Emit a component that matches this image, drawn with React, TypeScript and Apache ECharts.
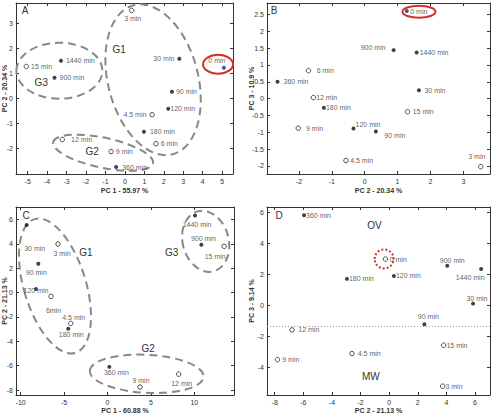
import React, { useEffect, useRef } from "react";
import * as echarts from "echarts";

const FONT = "Liberation Sans, Arial, Helvetica, sans-serif";
type Lab = [string, number, number, number]; // position, distance, dx, dy

// ---------- Panel A : PC1 vs PC2 ----------
const namesA = ["3 min", "0 min", "30 min", "1440 min", "15 min", "900 min", "90 min", "120 min", "4.5 min", "180 min", "6 min", "12 min", "9 min", "360 min"];
const xA = [0.35, 5.09, 2.8, -3.29, -5.07, -3.62, 2.42, 2.23, 1.4, 0.98, 1.6, -3.22, -0.71, -0.45];
const yA = [3.5, 1.21, 1.57, 1.49, 1.26, 0.81, 0.25, -0.43, -0.67, -1.35, -1.83, -1.66, -2.14, -2.76];
const kindA = ["open", "blue", "filled", "filled", "open", "filled", "filled", "filled", "open", "filled", "open", "open", "open", "filled"];
const labA: Lab[] = [["bottom", 2, 1, 0], ["top", 2, -7, 0], ["left", 3, 0, 0], ["right", 3, 0, 0], ["right", 2, 0, 0], ["right", 3, 0, 0], ["right", 2, 0, 0], ["right", 0, 0, 0], ["left", 3, 0, 0], ["right", 4, 0, 0], ["right", 2, 0, 0], ["right", 6, 0, 0], ["right", 2, 0, 0], ["right", 4, 0, 0]];
const xTicksA = [-5, -4, -3, -2, -1, 0, 1, 2, 3, 4, 5];
const yTicksA = [-2, -1, 0, 1, 2, 3];
const groupTextA = ["G1", "G3", "G2"];
const groupXA = [-0.3, -4.3, -1.68];
const groupYA = [1.93, 0.61, -2.15];
const ellA = [
  { cx: 1.45, cy: 0.73, rx: 45, ry: 77, rot: 14.6, kind: "group" },
  { cx: -3.37, cy: 1.09, rx: 43, ry: 28, rot: 0, kind: "group" },
  { cx: -1.12, cy: -2.19, rx: 51, ry: 15, rot: -12, kind: "group" },
  { cx: 4.79, cy: 1.35, rx: 15, ry: 9.5, rot: 0, kind: "red" },
];

// ---------- Panel B : PC2 vs PC3 ----------
const namesB = ["0 min", "900 min", "1440 min", "6 min", "360 min", "30 min", "12 min", "180 min", "15 min", "120 min", "90 min", "9 min", "4.5 min", "3 min"];
const xB = [1.28, 0.88, 1.58, -1.71, -2.65, 1.65, -1.56, -1.24, 1.3, -0.34, 0.34, -2.02, -0.57, 3.53];
const yB = [2.6, 1.44, 1.37, 0.83, 0.5, 0.25, 0.03, -0.27, -0.39, -0.89, -0.98, -0.88, -1.84, -2.02];
const kindB = ["blue", "filled", "filled", "open", "filled", "filled", "open", "filled", "open", "filled", "filled", "open", "open", "open"];
const labB: Lab[] = [["right", 1.5, 0, 0], ["left", 6, 0, -3], ["right", 1, 0, 0], ["right", 5.5, 0, 0], ["right", 4, 0, 0], ["right", 3.5, 0, 0], ["right", 0, 0, 0], ["right", 0, 0, 0], ["right", 2.5, 0, 0], ["right", 0, 0, -4.5], ["right", 6.5, 0, 4], ["right", 5, 0, 0], ["right", 1.5, 0, 0], ["top", 3.4, -4, 0]];
const xTicksB = [-2, -1, 0, 1, 2, 3];
const yTicksB = [-2, -1.5, -1, -0.5, 0, 0.5, 1, 1.5, 2, 2.5];
const ellB = [{ cx: 1.65, cy: 2.58, rx: 16.5, ry: 6, rot: 0, kind: "red" }];

// ---------- Panel C : PC1 vs PC2 ----------
const namesC = ["30 min", "3 min", "90 min", "120 min", "6min", "4.5 min", "180 min", "1440 min", "900 min", "15 min", "360 min", "9 min", "12 min"];
const xC = [-9.31, -5.7, -7.97, -8.24, -6.51, -4.24, -4.52, 10.08, 10.81, 13.44, 0.21, 3.74, 8.2];
const yC = [5.55, 3.99, 2.37, 0.29, -0.31, -2.53, -2.97, 6.34, 3.93, 3.8, -6.1, -7.76, -6.7];
const kindC = ["filled", "open", "filled", "filled", "open", "open", "filled", "filled", "filled", "open", "filled", "open", "open"];
const labC: Lab[] = [["bottom", 18, 8, 0], ["bottom", 3, 4, 0], ["bottom", 3, -2, 0], ["inside", 0, 0, 1], ["bottom", 8, 2.5, 0], ["top", 0, 3, 0], ["bottom", 0, 3, 0], ["bottom", 4, 2, 0], ["top", 1, 2, 0], ["bottom", 4, -9, 0], ["bottom", 0, 7, 0], ["top", 0.5, 1, 0], ["bottom", 3.5, 3, 0]];
const xTicksC = [-10, -5, 0, 5, 10];
const yTicksC = [-8, -6, -4, -2, 0, 2, 4, 6];
const groupTextC = ["G1", "G3", "G2"];
const groupXC = [-2.48, 7.4, 4.67];
const groupYC = [3.33, 3.33, -4.62];
const ellC = [
  { cx: -6.05, cy: 0.54, rx: 31, ry: 70, rot: 17, kind: "group" },
  { cx: 11.31, cy: 4.21, rx: 23, ry: 31, rot: 15, kind: "group" },
  { cx: 4.52, cy: -6.67, rx: 57, ry: 19, rot: -3, kind: "group" },
];

// ---------- Panel D : PC2 vs PC3 ----------
const namesD = ["360 min", "0 min", "900 min", "1440 min", "120 min", "180 min", "30 min", "90 min", "12 min", "15 min", "4.5 min", "9 min", "3 min"];
const xD = [-5.95, -0.26, 4.06, 6.43, 0.33, -2.95, 5.86, 2.46, -6.79, 3.81, -2.6, -7.81, 3.74];
const yD = [5.83, 3.0, 2.57, 2.36, 1.91, 1.72, 0.12, -1.21, -1.58, -2.57, -3.11, -3.5, -5.22];
const kindD = ["filled", "open", "filled", "filled", "filled", "filled", "filled", "filled", "open", "open", "open", "open", "open"];
const labD: Lab[] = [["right", 0, 0, 0], ["right", 1.5, 0, 0], ["top", 0, 5, 0], ["bottom", 3, -11, 0], ["right", 0, 0, 0], ["right", 0, 0, 0], ["top", 0, 4, 0], ["top", 2, 4, 0], ["right", 3.5, 0, 0], ["right", 0, 0, 0], ["right", 3, 0, 0], ["right", 2, 0, 0], ["right", 0, 0, 0]];
const xTicksD = [-8, -6, -4, -2, 0, 2, 4, 6];
const yTicksD = [-4, -2, 0, 2, 4, 6];
const groupTextD = ["OV", "MW"];
const groupXD = [-1.03, -1.28];
const groupYD = [5.19, -4.58];
const ellD = [{ cx: -0.35, cy: 3.01, rx: 9.5, ry: 9.5, rot: 0, kind: "dotted" }];
const dividerD = -1.32;

const AXIS = "#333";
const TXT = "#333";

function markerStyle(kind: string) {
  if (kind === "filled") return { size: 4, style: { color: "#111", borderColor: "#111", borderWidth: 0 } };
  if (kind === "blue") return { size: 4, style: { color: "#1c2a8c", borderColor: "#1c2a8c", borderWidth: 0 } };
  return { size: 4.5, style: { color: "#fff", borderColor: "#222", borderWidth: 1 } };
}

function xAxes(gi: number, min: number, max: number, ticks: number[], name: string, gap: number) {
  const common = {
    type: "value", gridIndex: gi, min, max,
    splitLine: { show: false },
    axisLine: { show: true, onZero: false, lineStyle: { color: AXIS, width: 1 } },
    axisTick: { show: true, inside: true, length: 3, customValues: ticks, lineStyle: { color: AXIS, width: 1 } },
  };
  return [
    {
      ...common, position: "bottom",
      name, nameLocation: "middle", nameGap: gap, nameMoveOverlap: false,
      nameTextStyle: { fontSize: 7, fontWeight: "bold", color: TXT, fontFamily: FONT },
      axisLabel: { show: true, customValues: ticks, fontSize: 7, color: TXT, margin: 4, fontFamily: FONT },
    },
    { ...common, position: "top", axisLabel: { show: false } },
  ];
}

function yAxes(gi: number, min: number, max: number, ticks: number[], name: string, gap: number) {
  const common = {
    type: "value", gridIndex: gi, min, max,
    splitLine: { show: false },
    axisLine: { show: true, onZero: false, lineStyle: { color: AXIS, width: 1 } },
    axisTick: { show: true, inside: true, length: 3, customValues: ticks, lineStyle: { color: AXIS, width: 1 } },
  };
  return [
    {
      ...common, position: "left",
      name, nameLocation: "middle", nameGap: gap, nameRotate: 90, nameMoveOverlap: false,
      nameTextStyle: { fontSize: 7, fontWeight: "bold", color: TXT, fontFamily: FONT },
      axisLabel: { show: true, customValues: ticks, fontSize: 7, color: TXT, margin: 3, fontFamily: FONT },
    },
    { ...common, position: "right", axisLabel: { show: false } },
  ];
}

function pointSeries(gi: number, names: string[], xs: number[], ys: number[], kinds: string[], labs: Lab[], extra: any = {}) {
  return {
    type: "scatter", xAxisIndex: gi * 2, yAxisIndex: gi * 2, z: 5,
    data: names.map((n, i) => {
      const m = markerStyle(kinds[i]);
      const [pos, dist, dx, dy] = labs[i];
      return {
        name: n, value: [xs[i], ys[i]], symbolSize: m.size, itemStyle: m.style,
        label: { show: true, position: pos, distance: dist, offset: [dx, dy], formatter: "{b}", fontSize: 7, color: TXT, fontFamily: FONT },
      };
    }),
    ...extra,
  };
}

function ellipseSeries(gi: number, ells: any[]) {
  return {
    type: "custom", xAxisIndex: gi * 2, yAxisIndex: gi * 2, clip: false, silent: true, z: 3,
    data: ells.map((e) => [e.cx, e.cy]),
    renderItem: (params: any, api: any) => {
      const e = ells[params.dataIndex];
      const c = api.coord([api.value(0), api.value(1)]);
      let style: any = { fill: "none", stroke: "#888", lineWidth: 2, lineDash: [8, 5] };
      if (e.kind === "red") style = { fill: "none", stroke: "#d3302a", lineWidth: 2 };
      if (e.kind === "dotted") style = { fill: "none", stroke: "#d3302a", lineWidth: 2, lineDash: [2, 2] };
      return {
        type: "ellipse", x: c[0], y: c[1], rotation: (e.rot * Math.PI) / 180,
        shape: { cx: 0, cy: 0, rx: e.rx, ry: e.ry }, style,
      };
    },
  };
}

function textSeries(gi: number, texts: string[], xs: number[], ys: number[]) {
  return {
    type: "custom", xAxisIndex: gi * 2, yAxisIndex: gi * 2, clip: false, silent: true, z: 4,
    data: texts.map((t, i) => [xs[i], ys[i]]),
    renderItem: (params: any, api: any) => {
      const c = api.coord([api.value(0), api.value(1)]);
      return {
        type: "text", x: c[0], y: c[1],
        style: { text: texts[params.dataIndex], align: "center", verticalAlign: "middle", fontSize: 10, fill: TXT, fontFamily: FONT },
      };
    },
  };
}

export default function App() {
  const ref = useRef<HTMLDivElement>(null);
  useEffect(() => {
    if (!ref.current) return;
    const chart = echarts.init(ref.current, undefined, { renderer: "svg" });
    const grids = [
      { left: 16, top: 3, width: 217, height: 171 },
      { left: 267, top: 3, width: 223, height: 171 },
      { left: 16, top: 207, width: 218, height: 188 },
      { left: 267, top: 207, width: 223, height: 188 },
    ].map((g) => ({ ...g, show: false, containLabel: false, outerBoundsMode: "none" }));

    const xAxis = [
      ...xAxes(0, -5.6, 5.56, xTicksA, "PC 1 - 55.97 %", 13),
      ...xAxes(1, -2.97, 3.81, xTicksB, "PC 2 - 20.34 %", 13),
      ...xAxes(2, -10.54, 14.57, xTicksC, "PC 1 - 60.88 %", 12),
      ...xAxes(3, -8.54, 7.05, xTicksD, "PC 2 - 21.13 %", 12),
    ];
    const yAxis = [
      ...yAxes(0, -3.04, 3.8, yTicksA, "PC 2 - 20.34 %", 8.5),
      ...yAxes(1, -2.24, 2.84, yTicksB, "PC 3 - 10.9 %", 12),
      ...yAxes(2, -8.41, 7.03, yTicksC, "PC 2 - 21.13 %", 8.5),
      ...yAxes(3, -5.79, 6.37, yTicksD, "PC 3 - 9.14 %", 12),
    ];

    const series: any[] = [
      ellipseSeries(0, ellA),
      pointSeries(0, namesA, xA, yA, kindA, labA),
      textSeries(0, groupTextA, groupXA, groupYA),
      ellipseSeries(1, ellB),
      pointSeries(1, namesB, xB, yB, kindB, labB),
      ellipseSeries(2, ellC),
      pointSeries(2, namesC, xC, yC, kindC, labC),
      textSeries(2, groupTextC, groupXC, groupYC),
      ellipseSeries(3, ellD),
      pointSeries(3, namesD, xD, yD, kindD, labD, {
        markLine: {
          silent: true, symbol: ["none", "none"], label: { show: false },
          lineStyle: { type: [1, 2], color: "#999", width: 1 },
          data: [{ yAxis: dividerD }],
        },
      }),
      textSeries(3, groupTextD, groupXD, groupYD),
    ];

    const letter = (t: string, x: number, y: number) => ({
      type: "text", x, y, z: 10,
      style: { text: t, align: "center", verticalAlign: "middle", fontSize: 10, fill: TXT, fontFamily: FONT },
    });

    chart.setOption({
      animation: false,
      backgroundColor: "#fff",
      grid: grids,
      xAxis,
      yAxis,
      series,
      graphic: [letter("A", 25, 10), letter("B", 274, 10), letter("C", 26, 215), letter("D", 279, 215)],
    });
    return () => chart.dispose();
  }, []);
  return <div ref={ref} style={{ position: "fixed", left: 0, top: 0, width: 492, height: 416, background: "#fff" }} />;
}
